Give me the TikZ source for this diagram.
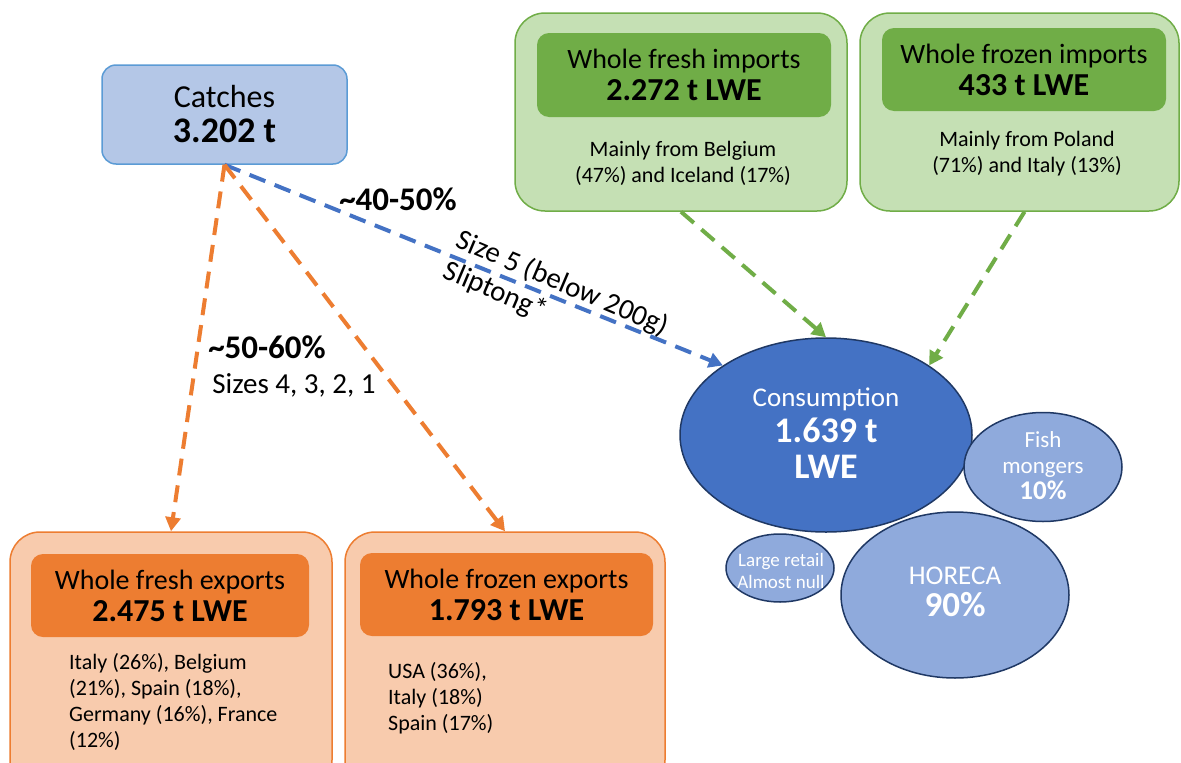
\documentclass[tikz,border=0pt]{standalone}
\usepackage{fontspec}
\setmainfont{Carlito}
\usetikzlibrary{arrows.meta,shapes.geometric,calc}
\definecolor{catfill}{HTML}{B4C7E7}
\definecolor{catdraw}{HTML}{5B9BD5}
\definecolor{grnlight}{HTML}{C5E0B4}
\definecolor{grn}{HTML}{70AD47}
\definecolor{orglight}{HTML}{F8CBAD}
\definecolor{org}{HTML}{ED7D31}
\definecolor{consblue}{HTML}{4472C4}
\definecolor{lightblue}{HTML}{8FAADC}
\definecolor{navy}{HTML}{1F3864}
\newcommand{\bignum}[2]{{\fontsize{#1}{#1}\selectfont\bfseries #2}}
\tikzset{
  catchbox/.style={draw=catdraw, fill=catfill, line width=1.5pt, rounded corners=14pt, inner sep=0pt, align=center, font=\fontsize{32}{35}\selectfont},
  gouter/.style={draw=grn, fill=grnlight, line width=1.5pt, rounded corners=30pt, inner sep=0pt},
  ginner/.style={fill=grn, rounded corners=12pt, inner sep=0pt, align=center, font=\fontsize{28}{32}\selectfont},
  oouter/.style={draw=org, fill=orglight, line width=1.5pt, rounded corners=30pt, inner sep=0pt},
  oinner/.style={fill=org, rounded corners=12pt, inner sep=0pt, align=center, font=\fontsize{28}{32}\selectfont},
  subtext/.style={inner sep=0pt, align=center, font=\fontsize{22}{26}\selectfont},
  bigell/.style={ellipse, draw=navy, fill=consblue, line width=1.5pt, inner sep=0pt},
  smallell/.style={ellipse, draw=navy, fill=lightblue, line width=1.5pt, inner sep=0pt},
  elltext/.style={text=white, inner sep=0pt, align=center},
  dasharrow/.style={line width=4pt, dash pattern=on 17pt off 10pt, -{Triangle[length=14pt,width=15pt]}},
  barrow/.style={dasharrow, draw=consblue},
  oarrow/.style={dasharrow, draw=org},
  garrow/.style={dasharrow, draw=grn},
  lbl/.style={inner sep=0pt, font=\fontsize{28}{32}\selectfont}
}
\begin{document}
\begin{tikzpicture}[x=1pt,y=-1pt]
\useasboundingbox[fill=white] (0,0) rectangle (1181,763);
% Catches
\node[catchbox, minimum width=245pt, minimum height=99pt] (catches) at (224.5,114.5) {Catches\\\bignum{36}{3.202 t}};
% imports
\node[gouter, minimum width=332pt, minimum height=198pt] (fimp) at (681,112) {};
\node[ginner, minimum width=294pt, minimum height=84pt] (fimpt) at (684,75) {Whole fresh imports\\\bignum{32}{2.272 t LWE}};
\node[subtext] (fimps) at (683,163) {Mainly from Belgium\\(47\%) and Iceland (17\%)};
\node[gouter, minimum width=319pt, minimum height=198pt] (frimp) at (1019.5,112) {};
\node[ginner, minimum width=284pt, minimum height=83pt] (frimpt) at (1024,69.5) {Whole frozen imports\\\bignum{32}{433 t LWE}};
\node[subtext] (frimps) at (1027,154) {Mainly from Poland\\(71\%) and Italy (13\%)};
% exports
\node[oouter, minimum width=322pt, minimum height=258pt] (fexp) at (171,661) {};
\node[oinner, minimum width=278pt, minimum height=83pt] (fexpt) at (170,595.5) {Whole fresh exports\\\bignum{32}{2.475 t LWE}};
\node[subtext, align=left, anchor=north west] (fexps) at (69,653) {Italy (26\%), Belgium\\(21\%), Spain (18\%),\\Germany (16\%), France\\(12\%)};
\node[oouter, minimum width=320pt, minimum height=258pt] (frexp) at (505,661) {};
\node[oinner, minimum width=293pt, minimum height=83pt] (frexpt) at (506.5,594.5) {Whole frozen exports\\\bignum{32}{1.793 t LWE}};
\node[subtext, align=left, anchor=north west] (frexps) at (388,662) {USA (36\%),\\Italy (18\%)\\Spain (17\%)};
% consumption
\node[bigell, minimum width=292pt, minimum height=194pt] (cons) at (826,435) {};
\node[elltext, font=\fontsize{27}{36}\selectfont] (const) at (826,433) {Consumption\\\bignum{36}{1.639 t}\\\bignum{36}{LWE}};
\node[smallell, minimum width=158pt, minimum height=109pt] (fish) at (1043,467) {};
\node[elltext, font=\fontsize{23}{26}\selectfont] (fisht) at (1043,466) {Fish\\mongers\\\bignum{27}{10\%}};
\node[smallell, minimum width=228pt, minimum height=166pt] (horeca) at (955,595) {};
\node[elltext, font=\fontsize{27}{32}\selectfont] (horecat) at (955,592) {HORECA\\\bignum{35}{90\%}};
\node[smallell, minimum width=108pt, minimum height=68pt] (retail) at (780,568) {};
\node[elltext, font=\fontsize{19}{22}\selectfont] (retailt) at (781,571) {Large retail\\Almost null};
% connectors
\draw[barrow] (catches.south) -- (cons.146);
\draw[oarrow] (catches.south) -- (fexp.north);
\draw[oarrow] (catches.south) -- (frexp.north);
\draw[garrow] (fimp.south) -- (cons.north);
\draw[garrow] ([xshift=5pt]frimp.south) -- (cons.34);
% labels
\node[lbl, font=\fontsize{33}{36}\selectfont\bfseries] (l1) at (398,199) {\textasciitilde 40-50\%};
\node[lbl, font=\fontsize{33}{36}\selectfont\bfseries] (l2) at (267,347) {\textasciitilde 50-60\%};
\node[lbl, font=\fontsize{29}{32}\selectfont] (l3) at (294,385) {Sizes 4, 3, 2, 1};
\node[lbl, font=\fontsize{29}{33}\selectfont, rotate=-23, align=left] (l4) at (556,299) {Size 5 (below 200g)\\Sliptong*};
\end{tikzpicture}
\end{document}
